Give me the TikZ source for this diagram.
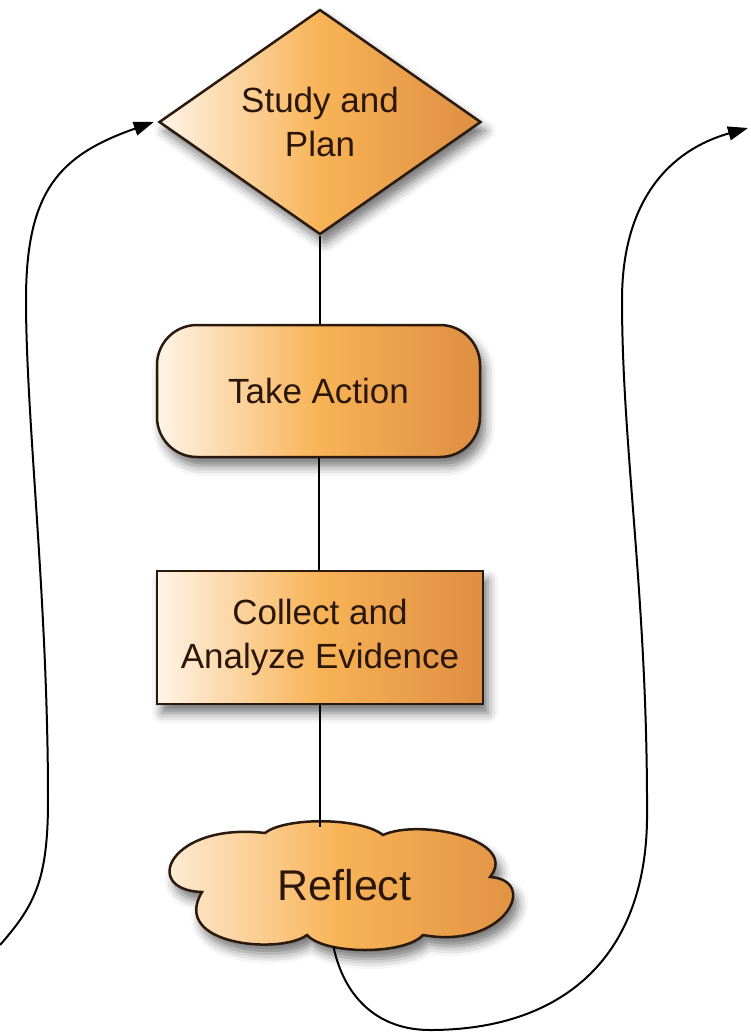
\documentclass[tikz,border=0pt]{standalone}
\usepackage{fontspec}
\setmainfont{Liberation Sans}
\usetikzlibrary{shapes.geometric,shadows.blur,arrows.meta}
\definecolor{edge}{HTML}{2A1A0E}
\definecolor{paleorange}{HTML}{FFF4E8}
\definecolor{midorange}{HTML}{F8B356}
\definecolor{deeporange}{HTML}{DE8E42}
\definecolor{ink}{HTML}{2B160A}
\begin{document}
\begin{tikzpicture}[x=1pt,y=-1pt,
  stepfill/.style={draw=edge, line width=2.5pt,
    left color=paleorange, right color=deeporange, middle color=midorange,
    blur shadow={shadow xshift=5pt, shadow yshift=-9pt, shadow blur radius=10pt, shadow opacity=55}},
  steptext/.style={text=ink, font=\fontsize{35}{44}\selectfont, align=center, inner sep=0pt},
  stepshape/.style={stepfill, steptext},
  link/.style={draw=black, line width=2pt},
  cycle/.style={draw=black, line width=2pt, -{Triangle[length=20pt,width=14pt]}}]
\useasboundingbox (0,0) rectangle (751,1035);

% process steps
\node[stepshape, diamond, minimum width=322pt, minimum height=225pt, aspect=1.43]
  (study) at (320,122) {Study and\\Plan};
\node[stepshape, rectangle, rounded corners=40pt, minimum width=323pt, minimum height=132pt]
  (take) at (318.5,391) {Take Action};
\node[stepshape, rectangle, minimum width=326pt, minimum height=133pt]
  (collect) at (320,637.5) {Collect and\\Analyze Evidence};

% cloud outline, six puffs meeting at cusps
\path[stepfill] (202,892)
  .. controls (140,890) and (170,822) .. (265,833)
  .. controls (285,817) and (360,817) .. (383,835)
  .. controls (420,818) and (520,840) .. (490,877)
  .. controls (540,880) and (505,950) .. (423,935)
  .. controls (405,955) and (325,955) .. (307,935)
  .. controls (280,955) and (170,945) .. cycle;
\node[steptext, ellipse, minimum width=345pt, minimum height=124pt,
  font=\fontsize{43}{50}\selectfont] (reflect) at (344.5,885) {Reflect};

% straight links between the steps
\draw[link] (study.south) -- (study.south |- take.north);
\draw[link] (take.south) -- (take.south |- collect.north);
\draw[link] (collect.south) -- ([yshift=-4pt]collect.south |- reflect.north);

% loop arrows
\coordinate (loopin) at (0,945);
\coordinate (loopout) at (748,128);
\draw[cycle] (loopin) .. controls (35,905) and (48,880) .. (48,800)
  .. controls (48,600) and (26,420) .. (26,300)
  .. controls (26,190) and (60,155) .. ([xshift=-4pt]study.west);
\draw[cycle] (reflect.-100) .. controls (345,1000) and (380,1030) .. (430,1030)
  .. controls (560,1030) and (645,960) .. (647,820)
  .. controls (648,600) and (622,450) .. (622,300)
  .. controls (622,200) and (670,150) .. (loopout);
\end{tikzpicture}
\end{document}
